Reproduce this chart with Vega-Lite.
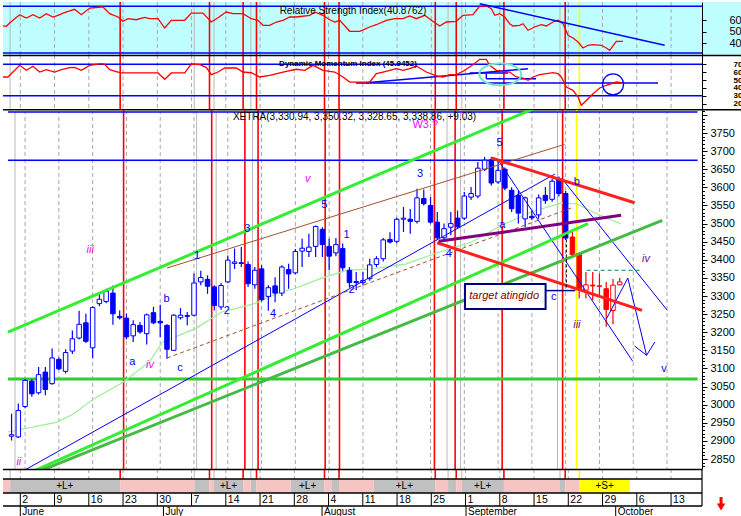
{
"$schema": "https://vega.github.io/schema/vega-lite/v6.json",
"padding": 0,
"background": "white",
"spacing": 0,
"bounds": "flush",
"config": {"view": {"stroke": null}, "concat": {"spacing": 0}, "axis": {"grid": false, "labelFont": "Arial", "labelColor": "#000", "domainColor": "#000", "tickColor": "#000"}},
"datasets": {
"weeks": [{"i":0,"d":"2"},{"i":5,"d":"9"},{"i":10,"d":"16"},{"i":15,"d":"23"},{"i":20,"d":"30"},{"i":25,"d":"7"},{"i":30,"d":"14"},{"i":35,"d":"21"},{"i":40,"d":"28"},{"i":45,"d":"4"},{"i":50,"d":"11"},{"i":55,"d":"18"},{"i":60,"d":"25"},{"i":65,"d":"1"},{"i":70,"d":"8"},{"i":75,"d":"15"},{"i":80,"d":"22"},{"i":85,"d":"29"},{"i":90,"d":"6"},{"i":95,"d":"13"}],
"months": [{"i":0,"m":"June"},{"i":20.9,"m":"July"},{"i":44.05,"m":"August"},{"i":65.07,"m":"September"},{"i":86.92,"m":"October"}],
"vl": [{"i":-1.49,"k":"g"},{"i":25.39,"k":"g"},{"i":28.28,"k":"g"},{"i":33.65,"k":"g"},{"i":62.45,"k":"g"},{"i":64.45,"k":"g"},{"i":78.79,"k":"g"},
{"i":14.58,"k":"r"},{"i":27.62,"k":"r"},{"i":32.53,"k":"r"},{"i":34.48,"k":"r"},{"i":44.41,"k":"r"},{"i":46.53,"k":"r"},{"i":60.58,"k":"r"},{"i":63.64,"k":"r"},{"i":70.6,"k":"r"},{"i":79.55,"k":"r"},{"i":81.62,"k":"y"}],
"hl": [{"pn":"rsi","i1":-2.526,"i2":99.52,"v":72.3},{"pn":"rsi","i1":-2.526,"i2":99.52,"v":31.2},{"pn":"dmi","i1":-2.526,"i2":99.52,"v":70},{"pn":"dmi","i1":-2.526,"i2":99.52,"v":30}],
"sep": [{"i1":-2.526,"i2":105.65,"v":81.17},{"i1":-2.526,"i2":105.65,"v":12.38}],
"levels": [{"name":"top","i1":-2.526,"i2":99.52,"p":3808},{"name":"res","i1":-2.526,"i2":99.52,"p":3675},{"name":"sup","i1":-2.526,"i2":99.52,"p":3071}],
"rsi": [{"i":-2.53,"v":55.0},{"i":-2.04,"v":54.7},{"i":-1.55,"v":57.6},{"i":-0.82,"v":61.4},{"i":-0.09,"v":64.9},{"i":0.88,"v":62.0},{"i":1.85,"v":64.9},{"i":2.83,"v":62.0},{"i":3.8,"v":65.8},{"i":4.77,"v":62.9},{"i":5.5,"v":64.4},{"i":6.23,"v":66.4},{"i":7.21,"v":68.2},{"i":7.94,"v":69.7},{"i":8.9,"v":64.9},{"i":10.13,"v":70.8},{"i":11.82,"v":71.7},{"i":12.07,"v":71.7},{"i":13.05,"v":65.8},{"i":14.26,"v":62.9},{"i":14.99,"v":59.1},{"i":15.72,"v":61.4},{"i":16.93,"v":60.5},{"i":18.16,"v":62.6},{"i":18.89,"v":61.4},{"i":20.1,"v":61.4},{"i":21.08,"v":53.2},{"i":22.04,"v":60},{"i":24.0,"v":60},{"i":24.96,"v":66.4},{"i":26.67,"v":66.4},{"i":27.88,"v":58.5},{"i":28.86,"v":62.3},{"i":30.07,"v":67.3},{"i":31.05,"v":65.8},{"i":32.5,"v":65.8},{"i":33.72,"v":61.4},{"i":34.7,"v":60},{"i":35.43,"v":55.6},{"i":36.41,"v":55.6},{"i":37.37,"v":58.5},{"i":38.35,"v":60},{"i":39.33,"v":62.9},{"i":40.29,"v":62.9},{"i":42.25,"v":64.4},{"i":42.98,"v":67.3},{"i":44.19,"v":64.4},{"i":45.17,"v":60.5},{"i":45.9,"v":58.5},{"i":46.63,"v":60},{"i":48.09,"v":50.3},{"i":49.55,"v":50.3},{"i":51.01,"v":54.1},{"i":51.97,"v":56.1},{"i":53.43,"v":60},{"i":54.66,"v":61.4},{"i":55.87,"v":61.4},{"i":56.85,"v":63.8},{"i":57.81,"v":61.4},{"i":59.04,"v":64.4},{"i":60,"v":60},{"i":61.23,"v":55.0},{"i":62.19,"v":58.5},{"i":63.65,"v":59.1},{"i":64.63,"v":64.4},{"i":66.09,"v":64.9},{"i":67.07,"v":72.6},{"i":68.03,"v":72.6},{"i":68.76,"v":70.2},{"i":69.26,"v":64.4},{"i":69.99,"v":65.8},{"i":70.72,"v":62.9},{"i":71.45,"v":57},{"i":71.93,"v":55.0},{"i":72.9,"v":55.6},{"i":73.39,"v":57},{"i":74.12,"v":51.2},{"i":75.09,"v":54.1},{"i":76.06,"v":56.1},{"i":76.79,"v":55.0},{"i":77.77,"v":58.5},{"i":78.5,"v":60},{"i":79.23,"v":57},{"i":79.96,"v":46.8},{"i":80.69,"v":44.4},{"i":81.42,"v":40.9},{"i":82.15,"v":35.6},{"i":82.88,"v":38},{"i":83.61,"v":38.5},{"i":84.82,"v":38},{"i":85.55,"v":35.6},{"i":86.04,"v":33.6},{"i":87.01,"v":41.5},{"i":87.99,"v":41.5}],
"dmi": [{"i":-2.53,"v":53.9},{"i":-1.8,"v":53.9},{"i":-1.07,"v":60.2},{"i":-0.09,"v":68.7},{"i":0.88,"v":62.4},{"i":1.85,"v":67.5},{"i":2.83,"v":60.2},{"i":3.8,"v":63.1},{"i":5.02,"v":60.2},{"i":5.99,"v":63.1},{"i":7.21,"v":65.7},{"i":7.94,"v":66.2},{"i":8.9,"v":62.4},{"i":10.13,"v":68.7},{"i":11.82,"v":70.8},{"i":12.32,"v":70},{"i":13.05,"v":63.1},{"i":14.51,"v":59.3},{"i":14.99,"v":59.0},{"i":20.1,"v":59.0},{"i":21.08,"v":51.0},{"i":22.04,"v":59.0},{"i":24.0,"v":59.0},{"i":24.96,"v":70.4},{"i":26.19,"v":69.5},{"i":27.15,"v":66.2},{"i":27.88,"v":56.8},{"i":28.86,"v":60.2},{"i":29.84,"v":65.3},{"i":31.53,"v":65.3},{"i":32.5,"v":60.2},{"i":33.72,"v":59.3},{"i":34.95,"v":53.9},{"i":36.41,"v":56.0},{"i":38.35,"v":60.2},{"i":40.29,"v":63.7},{"i":41.52,"v":62.4},{"i":42.74,"v":68.7},{"i":44.19,"v":62.4},{"i":45.9,"v":60.2},{"i":47.11,"v":53.9},{"i":48.09,"v":47.5},{"i":51.01,"v":47.5},{"i":51.97,"v":58.1},{"i":52.95,"v":60.2},{"i":53.93,"v":62.4},{"i":54.89,"v":64.4},{"i":55.87,"v":62.4},{"i":56.85,"v":64.4},{"i":57.81,"v":67.8},{"i":59.27,"v":60.2},{"i":60.73,"v":55.2},{"i":61.71,"v":53.9},{"i":62.69,"v":56.8},{"i":63.65,"v":56.8},{"i":64.63,"v":61.1},{"i":66.09,"v":69.5},{"i":67.07,"v":76.3},{"i":68.03,"v":76.3},{"i":68.53,"v":68.7},{"i":69.49,"v":62.4},{"i":70.47,"v":61.1},{"i":71.45,"v":60.2},{"i":72.41,"v":53.9},{"i":73.39,"v":52.6},{"i":74.12,"v":49.7},{"i":74.85,"v":53.9},{"i":75.82,"v":56.8},{"i":76.79,"v":58.1},{"i":77.77,"v":59.3},{"i":78.5,"v":58.1},{"i":78.98,"v":53.9},{"i":79.71,"v":41.2},{"i":80.69,"v":37.0},{"i":81.42,"v":28.5},{"i":81.9,"v":18.0},{"i":82.4,"v":22.2},{"i":83.61,"v":32.7},{"i":84.58,"v":39.9},{"i":85.55,"v":43.4},{"i":87.01,"v":47.5},{"i":87.74,"v":46.6}],
"dl": [{"n":"h1","i":49.0,"v":46.3},{"n":"h1","i":93.1,"v":46.3},{"n":"r1","i":50.47,"v":46.6},{"n":"r1","i":74.12,"v":64.4},{"n":"h2","i":65.6,"v":59.0},{"n":"h2","i":71.2,"v":59.0},{"n":"h3","i":68.03,"v":51.7},{"n":"h3","i":75.3,"v":51.7},{"n":"v1","i":68.03,"v":58.1},{"n":"v1","i":68.03,"v":51.7}],
"ohlc": [{"i":-2,"o":2913,"h":2975,"l":2901,"c":2917},{"i":-1,"o":2911,"h":3003,"l":2908,"c":2984},{"i":0,"o":2995,"h":3071,"l":2990,"c":3067},{"i":1,"o":3065,"h":3070,"l":3022,"c":3030},{"i":2,"o":3033,"h":3104,"l":3028,"c":3083},{"i":3,"o":3090,"h":3104,"l":3026,"c":3042},{"i":4,"o":3058,"h":3155,"l":3055,"c":3129},{"i":5,"o":3125,"h":3130,"l":3096,"c":3099},{"i":6,"o":3092,"h":3153,"l":3086,"c":3144},{"i":7,"o":3148,"h":3205,"l":3140,"c":3182},{"i":8,"o":3184,"h":3259,"l":3180,"c":3222},{"i":9,"o":3226,"h":3251,"l":3170,"c":3175},{"i":10,"o":3157,"h":3272,"l":3129,"c":3268},{"i":11,"o":3279,"h":3306,"l":3272,"c":3291},{"i":12,"o":3285,"h":3320,"l":3280,"c":3313},{"i":13,"o":3308,"h":3329,"l":3221,"c":3251},{"i":14,"o":3244,"h":3260,"l":3235,"c":3240},{"i":15,"o":3239,"h":3251,"l":3180,"c":3187},{"i":16,"o":3190,"h":3233,"l":3173,"c":3221},{"i":17,"o":3219,"h":3228,"l":3196,"c":3201},{"i":18,"o":3196,"h":3252,"l":3166,"c":3248},{"i":19,"o":3254,"h":3270,"l":3222,"c":3226},{"i":20,"o":3230,"h":3276,"l":3187,"c":3226},{"i":21,"o":3219,"h":3222,"l":3127,"c":3153},{"i":22,"o":3150,"h":3250,"l":3148,"c":3247},{"i":23,"o":3240,"h":3267,"l":3235,"c":3247},{"i":24,"o":3246,"h":3256,"l":3219,"c":3244},{"i":25,"o":3247,"h":3362,"l":3244,"c":3336},{"i":26,"o":3339,"h":3370,"l":3330,"c":3351},{"i":27,"o":3346,"h":3357,"l":3306,"c":3327},{"i":28,"o":3325,"h":3330,"l":3260,"c":3274},{"i":29,"o":3270,"h":3336,"l":3262,"c":3329},{"i":30,"o":3339,"h":3412,"l":3335,"c":3399},{"i":31,"o":3390,"h":3431,"l":3375,"c":3394},{"i":32,"o":3392,"h":3435,"l":3380,"c":3390},{"i":33,"o":3387,"h":3395,"l":3325,"c":3334},{"i":34,"o":3331,"h":3380,"l":3320,"c":3371},{"i":35,"o":3375,"h":3385,"l":3285,"c":3290},{"i":36,"o":3299,"h":3330,"l":3259,"c":3323},{"i":37,"o":3328,"h":3352,"l":3283,"c":3308},{"i":38,"o":3308,"h":3385,"l":3300,"c":3380},{"i":39,"o":3373,"h":3389,"l":3320,"c":3361},{"i":40,"o":3364,"h":3430,"l":3360,"c":3423},{"i":41,"o":3424,"h":3458,"l":3380,"c":3432},{"i":42,"o":3423,"h":3472,"l":3408,"c":3435},{"i":43,"o":3437,"h":3495,"l":3408,"c":3492},{"i":44,"o":3484,"h":3490,"l":3408,"c":3442},{"i":45,"o":3437,"h":3458,"l":3371,"c":3410},{"i":46,"o":3419,"h":3460,"l":3410,"c":3442},{"i":47,"o":3431,"h":3445,"l":3370,"c":3378},{"i":48,"o":3371,"h":3380,"l":3323,"c":3337},{"i":49,"o":3340,"h":3366,"l":3316,"c":3337},{"i":50,"o":3337,"h":3366,"l":3330,"c":3343},{"i":51,"o":3348,"h":3403,"l":3342,"c":3386},{"i":52,"o":3387,"h":3410,"l":3380,"c":3403},{"i":53,"o":3403,"h":3460,"l":3395,"c":3455},{"i":54,"o":3456,"h":3476,"l":3445,"c":3449},{"i":55,"o":3451,"h":3516,"l":3446,"c":3512},{"i":56,"o":3512,"h":3546,"l":3477,"c":3515},{"i":57,"o":3512,"h":3540,"l":3472,"c":3506},{"i":58,"o":3506,"h":3596,"l":3500,"c":3571},{"i":59,"o":3569,"h":3594,"l":3550,"c":3555},{"i":60,"o":3550,"h":3573,"l":3500,"c":3504},{"i":61,"o":3504,"h":3532,"l":3455,"c":3461},{"i":62,"o":3461,"h":3500,"l":3450,"c":3486},{"i":63,"o":3490,"h":3532,"l":3468,"c":3500},{"i":64,"o":3515,"h":3536,"l":3485,"c":3491},{"i":65,"o":3515,"h":3587,"l":3510,"c":3576},{"i":66,"o":3573,"h":3601,"l":3565,"c":3583},{"i":67,"o":3576,"h":3670,"l":3570,"c":3653},{"i":68,"o":3650,"h":3684,"l":3645,"c":3675},{"i":69,"o":3676,"h":3684,"l":3605,"c":3612},{"i":70,"o":3615,"h":3675,"l":3610,"c":3647},{"i":71,"o":3650,"h":3655,"l":3592,"c":3598},{"i":72,"o":3592,"h":3600,"l":3532,"c":3541},{"i":73,"o":3578,"h":3590,"l":3500,"c":3529},{"i":74,"o":3513,"h":3575,"l":3490,"c":3571},{"i":75,"o":3520,"h":3536,"l":3509,"c":3516},{"i":76,"o":3524,"h":3580,"l":3513,"c":3571},{"i":77,"o":3578,"h":3601,"l":3555,"c":3564},{"i":78,"o":3567,"h":3624,"l":3560,"c":3617},{"i":79,"o":3624,"h":3630,"l":3575,"c":3583},{"i":80,"o":3583,"h":3590,"l":3455,"c":3460},{"i":81,"o":3463,"h":3481,"l":3405,"c":3414},{"i":82,"o":3417,"h":3420,"l":3293,"c":3320},{"i":83,"o":3316,"h":3366,"l":3293,"c":3331},{"i":84,"o":3330,"h":3366,"l":3288,"c":3328},{"i":85,"o":3328,"h":3362,"l":3302,"c":3327},{"i":86,"o":3320,"h":3339,"l":3215,"c":3263},{"i":87,"o":3260,"h":3347,"l":3222,"c":3330},{"i":88,"o":3331,"h":3350,"l":3329,"c":3339}],
"ma": [{"i":-2.53,"p":2924.5},{"i":4.77,"p":2952},{"i":7.21,"p":2975},{"i":10.13,"p":3016},{"i":14.51,"p":3062},{"i":18.39,"p":3118},{"i":20.35,"p":3173},{"i":25.21,"p":3210},{"i":29.11,"p":3256},{"i":33.97,"p":3279},{"i":37.87,"p":3311},{"i":39.81,"p":3320},{"i":43.71,"p":3348},{"i":47.59,"p":3371},{"i":51.36,"p":3375},{"i":56.31,"p":3388},{"i":61.23,"p":3421},{"i":66.09,"p":3449},{"i":69.99,"p":3490},{"i":74.85,"p":3532},{"i":79.47,"p":3557},{"i":81.66,"p":3554},{"i":84.58,"p":3527},{"i":88.23,"p":3499}],
"tl": [{"n":"greenUp","i":-2.53,"p":3200.6},{"n":"greenUp","i":80,"p":3854.8},{"n":"greenLow1","i":-2.53,"p":2785},{"n":"greenLow1","i":83.3,"p":3499.6},{"n":"greenLow2","i":-2.53,"p":2781.2},{"n":"greenLow2","i":94.3,"p":3509},{"n":"brownUp","i":21,"p":3377.3},{"n":"brownUp","i":79.85,"p":3718.8},{"n":"brownDash","i":21,"p":3128.8},{"n":"brownDash","i":81.2,"p":3545.7},{"n":"blueChan","i":0.15,"p":2821.5},{"n":"blueChan","i":78.4,"p":3636.7},{"n":"proj1","i":70.2,"p":3670},{"n":"proj1","i":89.93,"p":3119.7},{"n":"proj2","i":79.47,"p":3623.8},{"n":"proj2","i":95.04,"p":3260.5},{"n":"zz1","i":86.04,"p":3237.3},{"n":"zz1","i":89.2,"p":3349.7},{"n":"zz1","i":91.97,"p":3136.3},{"n":"zz1","i":93.2,"p":3173},{"n":"zz2","i":90.2,"p":3161.9},{"n":"zz2","i":91.97,"p":3136.3},{"n":"redUp","i":69,"p":3681},{"n":"redUp","i":90.2,"p":3557.6},{"n":"redLow","i":60.98,"p":3447.1},{"n":"redLow","i":91.3,"p":3260.5},{"n":"purple","i":61.2,"p":3451},{"n":"purple","i":88.2,"p":3522.8},{"n":"teal","i":83.1,"p":3370.9},{"n":"teal","i":91.1,"p":3370.9},{"n":"navy","i":77.04,"p":3315},{"n":"navy","i":81.42,"p":3315}],
"waves": [{"i":9.64,"p":3426,"t":"iii","g":"m"},{"i":-0.92,"p":2842,"t":"ii","g":"m"},{"i":18.5,"p":3110,"t":"iv","g":"m"},{"i":41.85,"p":3624,"t":"v","g":"m"},{"i":20.93,"p":3292,"t":"b","g":"b"},{"i":15.87,"p":3118,"t":"a","g":"b"},{"i":22.92,"p":3101,"t":"c","g":"b"},{"i":25.46,"p":3410,"t":"1","g":"b"},{"i":29.84,"p":3258,"t":"2","g":"b"},{"i":32.9,"p":3484,"t":"3","g":"b"},{"i":44.29,"p":3550,"t":"5","g":"b"},{"i":36.7,"p":3249,"t":"4","g":"b"},{"i":47.59,"p":3468,"t":"1","g":"b"},{"i":48.32,"p":3316,"t":"2","g":"b"},{"i":70.22,"p":3723,"t":"5","g":"b"},{"i":58.45,"p":3638,"t":"3","g":"b"},{"i":62.69,"p":3417,"t":"4","g":"b"},{"i":70.61,"p":3495,"t":"a","g":"b"},{"i":81.66,"p":3615,"t":"b","g":"b"},{"i":78.25,"p":3297,"t":"c","g":"b"},{"i":94.55,"p":3099,"t":"v","g":"b"},{"i":81.66,"p":3219,"t":"iii","g":"p"},{"i":91.88,"p":3403,"t":"iv","g":"p"}],
"segs": [{"a":-2.526,"b":-1.49,"k":"x"},{"a":-1.49,"b":14.58,"k":"L"},{"a":14.58,"b":25.39,"k":"x"},{"a":25.39,"b":27.62,"k":"L"},{"a":27.62,"b":28.28,"k":"x"},{"a":28.28,"b":32.53,"k":"L"},{"a":32.53,"b":33.65,"k":"x"},{"a":33.65,"b":34.48,"k":"L"},{"a":34.48,"b":39.5,"k":"x"},{"a":39.5,"b":44.41,"k":"L"},{"a":44.41,"b":45.5,"k":"x"},{"a":45.5,"b":46.53,"k":"L"},{"a":46.53,"b":51.56,"k":"x"},{"a":51.56,"b":60.58,"k":"L"},{"a":60.58,"b":62.45,"k":"x"},{"a":62.45,"b":63.64,"k":"L"},{"a":63.64,"b":64.45,"k":"x"},{"a":64.45,"b":70.6,"k":"L"},{"a":70.6,"b":78.79,"k":"x"},{"a":78.79,"b":79.55,"k":"L"},{"a":79.55,"b":81.62,"k":"x"},{"a":81.62,"b":88.98,"k":"S"}],
"seglab": [{"i":6.5,"t":"+L+"},{"i":30.4,"t":"+L+"},{"i":41.95,"t":"+L+"},{"i":56.07,"t":"+L+"},{"i":67.5,"t":"+L+"},{"i":85.3,"t":"+S+"}]
},
"vconcat": [
{
"width": 741, "height": 53,
"view": {"fill": "#c0ffff", "stroke": null},
"resolve": {"axis": {"y": "independent"}},
"layer": [
{"data": {"name": "weeks"}, "mark": {"type": "rule", "color": "#a8a8a8", "strokeDash": [4, 3]}, "encoding": {"x": {"field": "i", "type": "quantitative", "scale": {"domain": [-2.526, 105.65], "nice": false, "zero": false}, "axis": null}}},
{"data": {"name": "vl"}, "transform": [{"filter": "datum.k == 'g'"}], "mark": {"type": "rule", "color": "#b8b8b8"}, "encoding": {"x": {"field": "i", "type": "quantitative", "axis": null}}},
{"data": {"name": "vl"}, "transform": [{"filter": "datum.k == 'r'"}], "mark": {"type": "rule", "color": "#ff0000", "strokeWidth": 1.6}, "encoding": {"x": {"field": "i", "type": "quantitative", "axis": null}}},
{"data": {"name": "vl"}, "transform": [{"filter": "datum.k == 'y'"}], "mark": {"type": "rule", "color": "#ffff00", "strokeWidth": 1.6}, "encoding": {"x": {"field": "i", "type": "quantitative", "axis": null}}},
{"data": {"name": "hl"}, "transform": [{"filter": "datum.pn == 'rsi'"}], "mark": {"type": "rule", "color": "#0000ff", "strokeWidth": 1.5}, "encoding": {"x": {"field": "i1", "type": "quantitative", "axis": null}, "x2": {"field": "i2"}, "y": {"field": "v", "type": "quantitative", "scale": {"domain": [29.43, 76.12], "nice": false, "zero": false}, "axis": {"orient": "right", "offset": -42, "values": [40, 50, 60], "tickSize": 4, "labelPadding": 23, "labelFontSize": 11, "labelBaseline": "middle", "labelOverlap": false, "labelBound": false, "labelFlush": false, "domain": true, "ticks": true, "title": null, "grid": false}}}},
{"data": {"name": "rsi"}, "mark": {"type": "line", "color": "#ff0000", "strokeWidth": 1.3}, "encoding": {"x": {"field": "i", "type": "quantitative", "axis": null}, "y": {"field": "v", "type": "quantitative", "axis": null}}},
{"data": {"values": [{"i": 67.07, "v": 74.6}, {"i": 94.07, "v": 38.0}]}, "mark": {"type": "line", "color": "#0000ff", "strokeWidth": 1.5}, "encoding": {"x": {"field": "i", "type": "quantitative", "axis": null}, "y": {"field": "v", "type": "quantitative", "axis": null}}},
{"data": {"values": [{"i": 48.57, "v": 68.2, "t": "Relative Strength Index(40.8762)"}]}, "mark": {"type": "text", "font": "Arial", "fontSize": 10, "color": "#000"}, "encoding": {"x": {"field": "i", "type": "quantitative", "axis": null}, "y": {"field": "v", "type": "quantitative", "axis": null}, "text": {"field": "t"}}}
]
},
{
"width": 741, "height": 55,
"resolve": {"axis": {"y": "independent"}},
"layer": [
{"data": {"name": "weeks"}, "mark": {"type": "rule", "color": "#a8a8a8", "strokeDash": [4, 3]}, "encoding": {"x": {"field": "i", "type": "quantitative", "scale": {"domain": [-2.526, 105.65], "nice": false, "zero": false}, "axis": null}}},
{"data": {"name": "vl"}, "transform": [{"filter": "datum.k == 'g'"}], "mark": {"type": "rule", "color": "#b8b8b8"}, "encoding": {"x": {"field": "i", "type": "quantitative", "axis": null}}},
{"data": {"name": "vl"}, "transform": [{"filter": "datum.k == 'r'"}], "mark": {"type": "rule", "color": "#ff0000", "strokeWidth": 1.6}, "encoding": {"x": {"field": "i", "type": "quantitative", "axis": null}}},
{"data": {"name": "vl"}, "transform": [{"filter": "datum.k == 'y'"}], "mark": {"type": "rule", "color": "#ffff00", "strokeWidth": 1.6}, "encoding": {"x": {"field": "i", "type": "quantitative", "axis": null}}},
{"data": {"name": "hl"}, "transform": [{"filter": "datum.pn == 'dmi'"}], "mark": {"type": "rule", "color": "#0000ff", "strokeWidth": 1.5}, "encoding": {"x": {"field": "i1", "type": "quantitative", "axis": null}, "x2": {"field": "i2"}, "y": {"field": "v", "type": "quantitative", "scale": {"domain": [12.0, 81.8], "nice": false, "zero": false}, "axis": {"orient": "right", "offset": -42, "values": [20, 30, 40, 50, 60, 70], "tickSize": 4, "labelPadding": 27, "labelFontSize": 8, "labelFontWeight": "bold", "labelBaseline": "middle", "labelOverlap": false, "labelBound": false, "labelFlush": false, "domain": true, "ticks": true, "title": null, "grid": false}}}},
{"data": {"name": "sep"}, "mark": {"type": "rule", "color": "#000000", "strokeWidth": 1.6}, "encoding": {"x": {"field": "i1", "type": "quantitative", "axis": null}, "x2": {"field": "i2"}, "y": {"field": "v", "type": "quantitative", "axis": null}}},
{"data": {"name": "dl"}, "mark": {"type": "line", "color": "#0000ff", "strokeWidth": 1.5}, "encoding": {"x": {"field": "i", "type": "quantitative", "axis": null}, "y": {"field": "v", "type": "quantitative", "axis": null}, "detail": {"field": "n"}}},
{"data": {"name": "dmi"}, "mark": {"type": "line", "color": "#ff0000", "strokeWidth": 1.3}, "encoding": {"x": {"field": "i", "type": "quantitative", "axis": null}, "y": {"field": "v", "type": "quantitative", "axis": null}}},
{"data": {"values": [{"i": 70.07, "v": 57.3}]}, "mark": {"type": "point", "shape": "M-1,0A1,0.52,0,1,0,1,0A1,0.52,0,1,0,-1,0Z", "size": 1764, "filled": false, "color": "#70e6c8", "strokeWidth": 2, "opacity": 1}, "encoding": {"x": {"field": "i", "type": "quantitative", "axis": null}, "y": {"field": "v", "type": "quantitative", "axis": null}}},
{"data": {"values": [{"i": 86.53, "v": 44.6}]}, "mark": {"type": "point", "shape": "circle", "size": 441, "filled": false, "color": "#0000ff", "strokeWidth": 1.3, "opacity": 1}, "encoding": {"x": {"field": "i", "type": "quantitative", "axis": null}, "y": {"field": "v", "type": "quantitative", "axis": null}}},
{"data": {"values": [{"i": 47.84, "v": 70.8, "t": "Dynamic Momentum Index (45.9452)"}]}, "mark": {"type": "text", "font": "Arial", "fontSize": 8, "fontWeight": "bold", "color": "#000"}, "encoding": {"x": {"field": "i", "type": "quantitative", "axis": null}, "y": {"field": "v", "type": "quantitative", "axis": null}, "text": {"field": "t"}}}
]
},
{
"width": 741, "height": 359,
"resolve": {"axis": {"y": "independent"}},
"layer": [
{"data": {"name": "weeks"}, "mark": {"type": "rule", "color": "#a8a8a8", "strokeDash": [4, 3]}, "encoding": {"x": {"field": "i", "type": "quantitative", "scale": {"domain": [-2.526, 105.65], "nice": false, "zero": false}, "axis": null}}},
{"data": {"name": "vl"}, "transform": [{"filter": "datum.k == 'g'"}], "mark": {"type": "rule", "color": "#b8b8b8"}, "encoding": {"x": {"field": "i", "type": "quantitative", "axis": null}}},
{"data": {"name": "vl"}, "transform": [{"filter": "datum.k == 'r'"}], "mark": {"type": "rule", "color": "#ff0000", "strokeWidth": 1.6}, "encoding": {"x": {"field": "i", "type": "quantitative", "axis": null}}},
{"data": {"name": "vl"}, "transform": [{"filter": "datum.k == 'y'"}], "mark": {"type": "rule", "color": "#ffff00", "strokeWidth": 1.6}, "encoding": {"x": {"field": "i", "type": "quantitative", "axis": null}}},
{"data": {"name": "levels"}, "transform": [{"filter": "datum.name != 'sup'"}], "mark": {"type": "rule", "color": "#0000ff", "strokeWidth": 1.5}, "encoding": {"x": {"field": "i1", "type": "quantitative", "axis": null}, "x2": {"field": "i2"}, "y": {"field": "p", "type": "quantitative", "scale": {"domain": [2822.4, 3813.6], "nice": false, "zero": false}, "axis": {"orient": "right", "offset": -42, "values": [2830,2840,2850,2860,2870,2880,2890,2900,2910,2920,2930,2940,2950,2960,2970,2980,2990,3000,3010,3020,3030,3040,3050,3060,3070,3080,3090,3100,3110,3120,3130,3140,3150,3160,3170,3180,3190,3200,3210,3220,3230,3240,3250,3260,3270,3280,3290,3300,3310,3320,3330,3340,3350,3360,3370,3380,3390,3400,3410,3420,3430,3440,3450,3460,3470,3480,3490,3500,3510,3520,3530,3540,3550,3560,3570,3580,3590,3600,3610,3620,3630,3640,3650,3660,3670,3680,3690,3700,3710,3720,3730,3740,3750,3760,3770,3780,3790,3800,3810], "format": "d", "labelExpr": "datum.value % 50 === 0 && datum.value < 3790 ? datum.label : ''", "tickSize": {"condition": {"test": "datum.value % 50 === 0", "value": 5}, "value": 2.5}, "labelPadding": 3, "labelFontSize": 11, "labelBaseline": "middle", "labelOverlap": false, "labelBound": false, "labelFlush": false, "domain": true, "ticks": true, "title": null, "grid": false}}}},
{"data": {"name": "levels"}, "transform": [{"filter": "datum.name == 'sup'"}], "mark": {"type": "rule", "color": "#33cc33", "strokeWidth": 3}, "encoding": {"x": {"field": "i1", "type": "quantitative", "axis": null}, "x2": {"field": "i2"}, "y": {"field": "p", "type": "quantitative", "axis": null}}},
{"data": {"name": "ma"}, "mark": {"type": "line", "color": "#99ee99", "strokeWidth": 1.2, "clip": true}, "encoding": {"x": {"field": "i", "type": "quantitative", "axis": null}, "y": {"field": "p", "type": "quantitative", "axis": null}}},
{"data": {"name": "ohlc"}, "mark": {"type": "rule", "strokeWidth": 1.2}, "encoding": {"x": {"field": "i", "type": "quantitative", "axis": null}, "y": {"field": "l", "type": "quantitative", "axis": null}, "y2": {"field": "h"}, "color": {"condition": {"test": "datum.i >= 81", "value": "#ff0000"}, "value": "#0000ff"}}},
{"data": {"name": "ohlc"}, "mark": {"type": "bar", "size": 4.5, "strokeWidth": 1, "orient": "vertical", "fillOpacity": 1}, "encoding": {"x": {"field": "i", "type": "quantitative", "axis": null}, "y": {"field": "o", "type": "quantitative", "axis": null}, "y2": {"field": "c"}, "stroke": {"condition": {"test": "datum.i >= 81", "value": "#ff0000"}, "value": "#0000ff"}, "fill": {"condition": [{"test": "datum.c >= datum.o", "value": "#ffffff"}, {"test": "datum.i >= 81", "value": "#ff0000"}], "value": "#0000ff"}}},
{"data": {"name": "tl"}, "transform": [{"filter": "indexof(['blueChan','proj1','proj2','zz1','zz2'], datum.n) >= 0"}], "mark": {"type": "line", "color": "#0000ff", "strokeWidth": 1, "clip": true}, "encoding": {"x": {"field": "i", "type": "quantitative", "axis": null}, "y": {"field": "p", "type": "quantitative", "axis": null}, "detail": {"field": "n"}}},
{"data": {"name": "tl"}, "transform": [{"filter": "datum.n == 'brownUp'"}], "mark": {"type": "line", "color": "#a0522d", "strokeWidth": 1, "clip": true}, "encoding": {"x": {"field": "i", "type": "quantitative", "axis": null}, "y": {"field": "p", "type": "quantitative", "axis": null}}},
{"data": {"name": "tl"}, "transform": [{"filter": "datum.n == 'brownDash'"}], "mark": {"type": "line", "color": "#a0522d", "strokeWidth": 1, "strokeDash": [4, 3], "clip": true}, "encoding": {"x": {"field": "i", "type": "quantitative", "axis": null}, "y": {"field": "p", "type": "quantitative", "axis": null}}},
{"data": {"name": "tl"}, "transform": [{"filter": "datum.n == 'greenUp' || datum.n == 'greenLow1'"}], "mark": {"type": "line", "color": "#33ee33", "strokeWidth": 3, "clip": true}, "encoding": {"x": {"field": "i", "type": "quantitative", "axis": null}, "y": {"field": "p", "type": "quantitative", "axis": null}, "detail": {"field": "n"}}},
{"data": {"name": "tl"}, "transform": [{"filter": "datum.n == 'greenLow2'"}], "mark": {"type": "line", "color": "#44bb44", "strokeWidth": 3, "clip": true}, "encoding": {"x": {"field": "i", "type": "quantitative", "axis": null}, "y": {"field": "p", "type": "quantitative", "axis": null}}},
{"data": {"name": "tl"}, "transform": [{"filter": "datum.n == 'redUp' || datum.n == 'redLow'"}], "mark": {"type": "line", "color": "#ff2020", "strokeWidth": 3, "clip": true}, "encoding": {"x": {"field": "i", "type": "quantitative", "axis": null}, "y": {"field": "p", "type": "quantitative", "axis": null}, "detail": {"field": "n"}}},
{"data": {"name": "tl"}, "transform": [{"filter": "datum.n == 'purple'"}], "mark": {"type": "line", "color": "#800080", "strokeWidth": 3, "clip": true}, "encoding": {"x": {"field": "i", "type": "quantitative", "axis": null}, "y": {"field": "p", "type": "quantitative", "axis": null}}},
{"data": {"name": "tl"}, "transform": [{"filter": "datum.n == 'teal'"}], "mark": {"type": "line", "color": "#339999", "strokeWidth": 1.2, "strokeDash": [4, 3]}, "encoding": {"x": {"field": "i", "type": "quantitative", "axis": null}, "y": {"field": "p", "type": "quantitative", "axis": null}}},
{"data": {"name": "tl"}, "transform": [{"filter": "datum.n == 'navy'"}], "mark": {"type": "line", "color": "#000080", "strokeWidth": 1.5}, "encoding": {"x": {"field": "i", "type": "quantitative", "axis": null}, "y": {"field": "p", "type": "quantitative", "axis": null}}},
{"data": {"values": [{"i": 80.1, "p1": 3470, "p2": 3318}]}, "mark": {"type": "rule", "color": "#000000", "strokeWidth": 1, "strokeDash": [3, 2]}, "encoding": {"x": {"field": "i", "type": "quantitative", "axis": null}, "y": {"field": "p1", "type": "quantitative", "axis": null}, "y2": {"field": "p2"}}},
{"data": {"values": [{"a": 65.1, "b": 77.03, "p1": 3264, "p2": 3333}]}, "mark": {"type": "rect", "fill": "#ffffff", "stroke": "#000080", "strokeWidth": 2}, "encoding": {"x": {"field": "a", "type": "quantitative", "axis": null}, "x2": {"field": "b"}, "y": {"field": "p1", "type": "quantitative", "axis": null}, "y2": {"field": "p2"}}},
{"data": {"values": [{"i": 70.9, "p": 3300, "t": "target atingido"}]}, "mark": {"type": "text", "font": "Arial", "fontSize": 11, "fontStyle": "italic", "color": "#800000"}, "encoding": {"x": {"field": "i", "type": "quantitative", "axis": null}, "y": {"field": "p", "type": "quantitative", "axis": null}, "text": {"field": "t"}}},
{"data": {"name": "waves"}, "transform": [{"filter": "datum.g == 'b'"}], "mark": {"type": "text", "font": "Arial", "fontSize": 11, "color": "#0000ff"}, "encoding": {"x": {"field": "i", "type": "quantitative", "axis": null}, "y": {"field": "p", "type": "quantitative", "axis": null}, "text": {"field": "t"}}},
{"data": {"name": "waves"}, "transform": [{"filter": "datum.g == 'm'"}], "mark": {"type": "text", "font": "Arial", "fontSize": 11, "fontStyle": "italic", "color": "#ff00ff"}, "encoding": {"x": {"field": "i", "type": "quantitative", "axis": null}, "y": {"field": "p", "type": "quantitative", "axis": null}, "text": {"field": "t"}}},
{"data": {"name": "waves"}, "transform": [{"filter": "datum.g == 'p'"}], "mark": {"type": "text", "font": "Arial", "fontSize": 11, "fontStyle": "italic", "color": "#800080"}, "encoding": {"x": {"field": "i", "type": "quantitative", "axis": null}, "y": {"field": "p", "type": "quantitative", "axis": null}, "text": {"field": "t"}}},
{"data": {"values": [{"i": 30.76, "p": 3794, "t": "XETRA(3,330.94, 3,350.32, 3,328.65, 3,338.86, +9.03)"}]}, "mark": {"type": "text", "font": "Arial", "fontSize": 10, "align": "left", "color": "#000"}, "encoding": {"x": {"field": "i", "type": "quantitative", "axis": null}, "y": {"field": "p", "type": "quantitative", "axis": null}, "text": {"field": "t"}}},
{"data": {"values": [{"i": 57.33, "p": 3772, "t": "W3 ?"}]}, "mark": {"type": "text", "font": "Arial", "fontSize": 11, "align": "left", "color": "#ff00ff"}, "encoding": {"x": {"field": "i", "type": "quantitative", "axis": null}, "y": {"field": "p", "type": "quantitative", "axis": null}, "text": {"field": "t"}}}
]
},
{
"width": 741, "height": 49,
"layer": [
{"data": {"name": "weeks"}, "mark": {"type": "rule", "color": "#a8a8a8", "strokeDash": [4, 3]}, "encoding": {"x": {"field": "i", "type": "quantitative", "scale": {"domain": [-2.526, 105.65], "nice": false, "zero": false}, "axis": null}, "y": {"datum": 0, "type": "quantitative", "scale": {"domain": [0, 49], "reverse": true, "nice": false, "zero": false}, "axis": null}, "y2": {"datum": 10}}},
{"data": {"name": "vl"}, "transform": [{"filter": "datum.k == 'g'"}], "mark": {"type": "rule", "color": "#b8b8b8"}, "encoding": {"x": {"field": "i", "type": "quantitative", "axis": null}, "y": {"datum": 0, "type": "quantitative", "axis": null}, "y2": {"datum": 10}}},
{"data": {"name": "vl"}, "transform": [{"filter": "datum.k == 'r'"}], "mark": {"type": "rule", "color": "#ff0000", "strokeWidth": 1.6}, "encoding": {"x": {"field": "i", "type": "quantitative", "axis": null}, "y": {"datum": 0, "type": "quantitative", "axis": null}, "y2": {"datum": 10}}},
{"data": {"name": "vl"}, "transform": [{"filter": "datum.k == 'y'"}], "mark": {"type": "rule", "color": "#ffff00", "strokeWidth": 1.6}, "encoding": {"x": {"field": "i", "type": "quantitative", "axis": null}, "y": {"datum": 0, "type": "quantitative", "axis": null}, "y2": {"datum": 10}}},
{"data": {"name": "segs"}, "transform": [{"filter": "datum.k == 'L'"}], "mark": {"type": "rect", "fill": "#c0c0c0"}, "encoding": {"x": {"field": "a", "type": "quantitative", "axis": null}, "x2": {"field": "b"}, "y": {"datum": 10, "type": "quantitative", "axis": null}, "y2": {"datum": 24}}},
{"data": {"name": "segs"}, "transform": [{"filter": "datum.k == 'x'"}], "mark": {"type": "rect", "fill": "#f7c4c4"}, "encoding": {"x": {"field": "a", "type": "quantitative", "axis": null}, "x2": {"field": "b"}, "y": {"datum": 10, "type": "quantitative", "axis": null}, "y2": {"datum": 24}}},
{"data": {"name": "segs"}, "transform": [{"filter": "datum.k == 'S'"}], "mark": {"type": "rect", "fill": "#ffff00"}, "encoding": {"x": {"field": "a", "type": "quantitative", "axis": null}, "x2": {"field": "b"}, "y": {"datum": 10, "type": "quantitative", "axis": null}, "y2": {"datum": 24}}},
{"data": {"name": "seglab"}, "mark": {"type": "text", "font": "Arial", "fontSize": 10, "color": "#000"}, "encoding": {"x": {"field": "i", "type": "quantitative", "axis": null}, "y": {"datum": 17, "type": "quantitative", "axis": null}, "text": {"field": "t"}}},
{"data": {"values": [{}]}, "mark": {"type": "rule", "color": "#000", "strokeWidth": 1.6}, "encoding": {"x": {"datum": -2.526, "type": "quantitative", "axis": null}, "x2": {"datum": 99.52}, "y": {"datum": 0.5, "type": "quantitative", "axis": null}}},
{"data": {"values": [{}]}, "mark": {"type": "rule", "color": "#000", "strokeWidth": 1.6}, "encoding": {"x": {"datum": -2.526, "type": "quantitative", "axis": null}, "x2": {"datum": 99.52}, "y": {"datum": 10, "type": "quantitative", "axis": null}}},
{"data": {"values": [{}]}, "mark": {"type": "rule", "color": "#000", "strokeWidth": 1.6}, "encoding": {"x": {"datum": -2.526, "type": "quantitative", "axis": null}, "x2": {"datum": 99.52}, "y": {"datum": 24, "type": "quantitative", "axis": null}}},
{"data": {"values": [{}]}, "mark": {"type": "rule", "color": "#000", "strokeWidth": 1.6}, "encoding": {"x": {"datum": -2.526, "type": "quantitative", "axis": null}, "x2": {"datum": 99.52}, "y": {"datum": 37, "type": "quantitative", "axis": null}}},
{"data": {"values": [{}]}, "mark": {"type": "rule", "color": "#000", "strokeWidth": 1.2}, "encoding": {"x": {"datum": 99.52, "type": "quantitative", "axis": null}, "y": {"datum": 0, "type": "quantitative", "axis": null}, "y2": {"datum": 37}}},
{"data": {"name": "weeks"}, "mark": {"type": "rule", "color": "#000", "strokeWidth": 1}, "encoding": {"x": {"field": "i", "type": "quantitative", "axis": null}, "y": {"datum": 24, "type": "quantitative", "axis": null}, "y2": {"datum": 37}}},
{"data": {"name": "weeks"}, "mark": {"type": "text", "font": "Arial", "fontSize": 10.5, "align": "left", "dx": 2, "color": "#000"}, "encoding": {"x": {"field": "i", "type": "quantitative", "axis": null}, "y": {"datum": 30.5, "type": "quantitative", "axis": null}, "text": {"field": "d"}}},
{"data": {"name": "months"}, "mark": {"type": "rule", "color": "#000", "strokeWidth": 1}, "encoding": {"x": {"field": "i", "type": "quantitative", "axis": null}, "y": {"datum": 37, "type": "quantitative", "axis": null}, "y2": {"datum": 49}}},
{"data": {"name": "months"}, "mark": {"type": "text", "font": "Arial", "fontSize": 10, "align": "left", "dx": 2, "color": "#000"}, "encoding": {"x": {"field": "i", "type": "quantitative", "axis": null}, "y": {"datum": 42.8, "type": "quantitative", "axis": null}, "text": {"field": "m"}}},
{"data": {"values": [{"i": 102.3}]}, "mark": {"type": "rule", "color": "#ff0000", "strokeWidth": 3}, "encoding": {"x": {"field": "i", "type": "quantitative", "axis": null}, "y": {"datum": 28, "type": "quantitative", "axis": null}, "y2": {"datum": 36}}},
{"data": {"values": [{"i": 102.3}]}, "mark": {"type": "point", "shape": "triangle-down", "filled": true, "color": "#ff0000", "size": 70, "opacity": 1}, "encoding": {"x": {"field": "i", "type": "quantitative", "axis": null}, "y": {"datum": 38, "type": "quantitative", "axis": null}}}
]
}
]
}
